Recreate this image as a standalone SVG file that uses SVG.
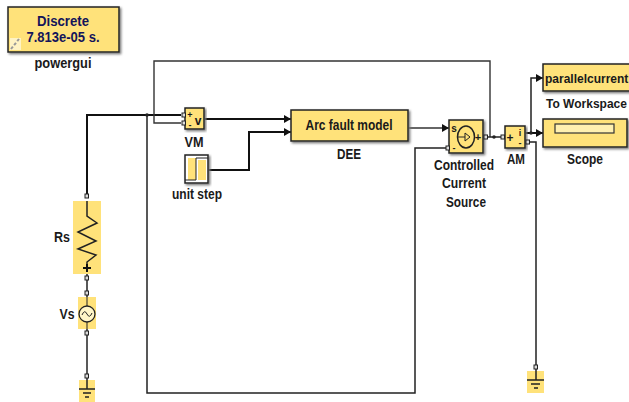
<svg xmlns="http://www.w3.org/2000/svg" width="629" height="402" viewBox="0 0 629 402">
<style>
text{font-family:"Liberation Sans",Arial,sans-serif;font-weight:bold;fill:#1a1a1a;font-size:15px;text-anchor:middle}
.b{fill:#ffe27a;stroke:#222;stroke-width:1.5}
.f{fill:#ffe27a;stroke:none}
.w{fill:#fff;stroke:#222;stroke-width:1.5}
.c{fill:none;stroke:#222;stroke-width:1.5}
.g{fill:none;stroke:#333;stroke-width:1.4}
.s{fill:none;stroke:#111;stroke-width:2}
.p{fill:#ddd;stroke:#222;stroke-width:1}
.d{fill:#222}
.m{font-size:9px}
.n{font-size:12px;text-anchor:start}
.h{font-size:14px;fill:#14145a}
</style>
<defs>
<marker id="a" markerUnits="userSpaceOnUse" markerWidth="7" markerHeight="8" refX="7" refY="4" orient="auto"><path d="M0 0L7 4L0 8Z" fill="#111"/></marker>
<filter id="sh" x="-10%" y="-10%" width="125%" height="125%"><feDropShadow dx="1.5" dy="1.5" stdDeviation="0.8" flood-color="#777"/></filter>
</defs>
<g id="connectors">
<path class="s" d="M87 197V115H181"/>
<path class="c" d="M147 115V393H415V148H449"/>
<path class="g" d="M181 123H154V61H490V137"/>
<path class="s" d="M204 119H291" marker-end="url(#a)"/>
<path class="s" d="M208 170H249V132H291" marker-end="url(#a)"/>
<path class="g" d="M408 128H449" marker-end="url(#a)"/>
<path class="c" d="M483 137H505"/>
<path class="s" d="M525 133H543" marker-end="url(#a)"/>
<path class="c" d="M531 133V78H543" marker-end="url(#a)"/>
<path class="c" d="M527 142H536V366"/>
<path class="c" d="M87 274V297"/>
<path class="c" d="M87 329V375"/>
<circle class="d" cx="147" cy="115" r="1.8"/>
<circle class="d" cx="531" cy="133" r="1.8"/>
<circle class="d" cx="494" cy="137" r="1.8"/>
</g>
<g id="powergui">
<rect x="8" y="7" width="111" height="45" class="b" filter="url(#sh)"/>
<text x="63" y="26" class="h" textLength="52" lengthAdjust="spacingAndGlyphs">Discrete</text>
<text x="63" y="42" class="h" textLength="73" lengthAdjust="spacingAndGlyphs">7.813e-05 s.</text>
<rect x="10" y="38" width="11" height="12" fill="#fff3c4"/>
<path d="M11 49L19 39" stroke="#999" stroke-width="2" stroke-dasharray="3 2" fill="none"/>
<text x="63" y="68" textLength="57" lengthAdjust="spacingAndGlyphs">powergui</text>
</g>
<g id="VM">
<rect x="185" y="108" width="19" height="21" class="b" filter="url(#sh)"/>
<rect x="182" y="113" width="3.500" height="4" class="p"/>
<rect x="182" y="121" width="3.500" height="4" class="p"/>
<text x="190" y="118" class="m">+</text>
<text x="190" y="128" class="m">-</text>
<text x="198" y="125" style="font-size:12px">v</text>
<text x="194" y="147" textLength="19" lengthAdjust="spacingAndGlyphs">VM</text>
</g>
<g id="unit-step">
<rect x="185" y="155" width="23" height="28" class="w" filter="url(#sh)"/>
<rect x="188" y="158" width="8" height="22" class="f"/>
<rect x="198" y="160" width="8" height="20" class="f"/>
<path class="c" d="M185 180H196V158H208" style="stroke-width:1"/>
<text x="197" y="199" textLength="50" lengthAdjust="spacingAndGlyphs">unit step</text>
</g>
<g id="DEE">
<rect x="291" y="110" width="117" height="31" class="b" filter="url(#sh)"/>
<text x="349" y="130" textLength="87" lengthAdjust="spacingAndGlyphs">Arc fault model</text>
<text x="349" y="159" textLength="24" lengthAdjust="spacingAndGlyphs">DEE</text>
</g>
<g id="controlled-current-source">
<rect x="449" y="120" width="34" height="33" class="b" filter="url(#sh)"/>
<rect x="446" y="146" width="3.500" height="4" class="p"/>
<rect x="484" y="135" width="3.500" height="4" class="p"/>
<ellipse cx="466" cy="137" rx="8.500" ry="11" fill="none" stroke="#222" stroke-width="1.500"/>
<path class="c" d="M458 137H465M465 133L470 137L465 141Z" style="stroke-width:1"/>
<text x="454" y="132" style="font-size:10px">s</text>
<text x="454" y="151" class="m">-</text>
<text x="478" y="141" style="font-size:11px">+</text>
<text x="464" y="170" textLength="60" lengthAdjust="spacingAndGlyphs">Controlled</text>
<text x="464" y="188" textLength="44" lengthAdjust="spacingAndGlyphs">Current</text>
<text x="466" y="207" textLength="40" lengthAdjust="spacingAndGlyphs">Source</text>
</g>
<g id="AM">
<rect x="505" y="126" width="20" height="22" class="b" filter="url(#sh)"/>
<rect x="501" y="135" width="3.500" height="4" class="p"/>
<rect x="526" y="140" width="3.500" height="4" class="p"/>
<text x="510" y="142" style="font-size:12px">+</text>
<text x="520" y="136" class="m">i</text>
<text x="520" y="146" class="m">-</text>
<text x="516" y="164" textLength="18" lengthAdjust="spacingAndGlyphs">AM</text>
</g>
<g id="to-workspace">
<rect x="543" y="64" width="87" height="27" class="b" filter="url(#sh)"/>
<text x="545" y="83" class="n">parallelcurrent</text>
<text x="546" y="108" class="n">To Workspace</text>
</g>
<g id="scope">
<rect x="543" y="119" width="84" height="28" class="b" filter="url(#sh)"/>
<rect x="555" y="124" width="59" height="9" fill="#fff0b0" stroke="#333" stroke-width="1.200"/>
<text x="585" y="164" textLength="36" lengthAdjust="spacingAndGlyphs">Scope</text>
</g>
<g id="Rs">
<rect x="73" y="201" width="28" height="73" class="f"/>
<path class="c" d="M87 201V216L97 223L78 232L96 241L78 249L96 255L87 262V272"/>
<path class="s" d="M83 268H91M87 264V272"/>
<rect x="85" y="194" width="3.500" height="4" class="p"/>
<rect x="85" y="276" width="3.500" height="4" class="p"/>
<text x="62" y="242" textLength="16" lengthAdjust="spacingAndGlyphs">Rs</text>
</g>
<g id="Vs">
<rect x="78" y="297" width="18" height="32" class="f"/>
<circle cx="87" cy="314" r="8" fill="#fff6c8" stroke="#222" stroke-width="1.300"/>
<path class="c" d="M82 315Q84.500 309 87 314T92 313" style="stroke-width:1"/>
<path class="c" d="M87 297V306M87 322V329" style="stroke-width:1"/>
<rect x="85" y="291" width="3.500" height="4" class="p"/>
<rect x="85" y="331" width="3.500" height="4" class="p"/>
<text x="67" y="319" textLength="15" lengthAdjust="spacingAndGlyphs">Vs</text>
</g>
<g id="ground-1">
<rect x="79" y="380" width="16" height="22" class="f"/>
<rect x="85" y="374" width="3.500" height="4" class="p"/>
<path class="c" d="M87 378V389M79 389H95M83 393H91M85 397H89"/>
</g>
<g id="ground-2">
<rect x="527" y="371" width="17" height="22" class="f"/>
<rect x="534" y="365" width="3.500" height="4" class="p"/>
<path class="c" d="M536 369V380M527 380H544M531 384H540M534 388H538"/>
</g>
</svg>
